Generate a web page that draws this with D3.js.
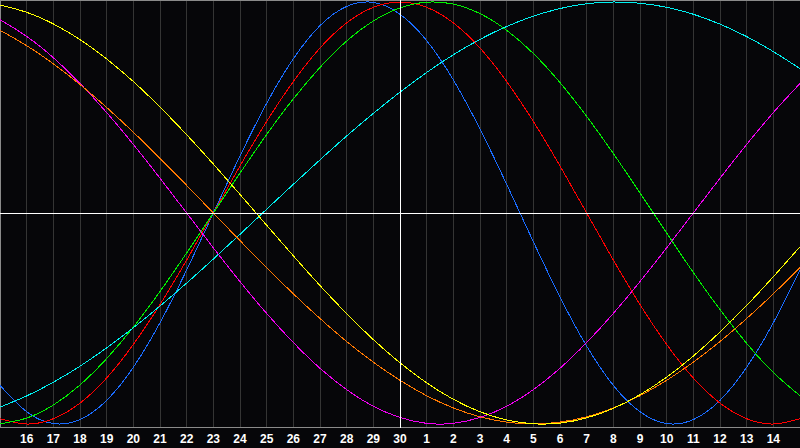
<!DOCTYPE html>
<html>
<head>
<meta charset="utf-8">
<script src="https://cdn.jsdelivr.net/npm/d3@7"></script>
<style>
html,body{margin:0;padding:0;background:#060609;overflow:hidden}
svg{display:block}
</style>
</head>
<body>
<svg id="chart" width="800" height="448"></svg>
<script>
// day labels, index 0 = 15th of previous month ... index 30 = 15th of next month
const dayLabels = ["15","16","17","18","19","20","21","22","23","24","25","26","27","28","29","30",
  "1","2","3","4","5","6","7","8","9","10","11","12","13","14","15"];

// daily values (-1 .. 1)
const physical = [-0.817,-0.942,-0.998,-0.979,-0.888,-0.731,-0.520,-0.270,0,0.270,0.520,0.731,0.888,0.979,0.998,0.942,0.817,0.631,0.398,0.136,-0.136,-0.398,-0.631,-0.817,-0.942,-0.998,-0.979,-0.888,-0.731,-0.520,-0.270];
const emotional = [-0.975,-1,-0.975,-0.901,-0.782,-0.623,-0.434,-0.223,0,0.223,0.434,0.623,0.782,0.901,0.975,1,0.975,0.901,0.782,0.623,0.434,0.223,0,-0.223,-0.434,-0.623,-0.782,-0.901,-0.975,-1,-0.975];
const intellectual = [-0.999,-0.972,-0.910,-0.815,-0.690,-0.541,-0.372,-0.189,0,0.189,0.372,0.541,0.690,0.815,0.910,0.972,0.999,0.990,0.945,0.866,0.756,0.618,0.458,0.282,0.095,-0.095,-0.282,-0.458,-0.618,-0.756,-0.866];
const spiritual = [-0.920,-0.867,-0.802,-0.726,-0.639,-0.544,-0.441,-0.332,-0.218,-0.101,0.018,0.136,0.252,0.365,0.472,0.573,0.666,0.750,0.823,0.884,0.933,0.969,0.992,1.000,0.994,0.975,0.942,0.895,0.836,0.765,0.684];
const aesthetic = [0.986,0.951,0.896,0.822,0.730,0.623,0.502,0.371,0.232,0.088,-0.058,-0.203,-0.344,-0.477,-0.600,-0.710,-0.805,-0.883,-0.942,-0.981,-0.999,-0.996,-0.971,-0.926,-0.861,-0.778,-0.678,-0.564,-0.438,-0.302,-0.160];
const awareness = [0.866,0.793,0.707,0.609,0.500,0.383,0.259,0.131,0,-0.131,-0.259,-0.383,-0.500,-0.609,-0.707,-0.793,-0.866,-0.924,-0.966,-0.991,-1,-0.991,-0.966,-0.924,-0.866,-0.793,-0.707,-0.609,-0.500,-0.383,-0.259];
const intuitive = [0.916,0.837,0.736,0.614,0.476,0.325,0.165,0,-0.165,-0.325,-0.476,-0.614,-0.736,-0.837,-0.916,-0.969,-0.997,-0.997,-0.969,-0.916,-0.837,-0.736,-0.614,-0.476,-0.325,-0.165,0,0.165,0.325,0.476,0.614];

const series = [
  {name:"physical", values: physical, color:"#1a6cff"},
  {name:"emotional", values: emotional, color:"#ff0000"},
  {name:"intellectual", values: intellectual, color:"#00f000"},
  {name:"spiritual", values: spiritual, color:"#00f0f0"},
  {name:"intuitive", values: intuitive, color:"#f000f0"},
  {name:"awareness", values: awareness, color:"#ff7800"},
  {name:"aesthetic", values: aesthetic, color:"#ffff00"}
];

const W = 800, H = 448;
const svg = d3.select("#chart");
svg.append("rect").attr("width", W).attr("height", H).attr("fill", "#060609");

const x = d3.scaleLinear().domain([0, dayLabels.length - 1]).range([0, 800]);
const y = d3.scaleLinear().domain([-1, 1]).range([424, 2]);
const axisY = 427.5;
const snap = v => Math.floor(v + 0.01) + 0.5;

// vertical day grid
svg.append("g").selectAll("line")
  .data(d3.range(1, dayLabels.length - 1))
  .join("line")
  .attr("x1", d => snap(x(d))).attr("x2", d => snap(x(d)))
  .attr("y1", 0).attr("y2", axisY)
  .attr("stroke", "#343434").attr("stroke-width", 1)
  .attr("shape-rendering", "crispEdges");

// frame
svg.append("line").attr("x1", 0).attr("x2", W).attr("y1", 0.5).attr("y2", 0.5)
  .attr("stroke", "#8a8a8a").attr("shape-rendering", "crispEdges");
svg.append("line").attr("x1", 0.5).attr("x2", 0.5).attr("y1", 0).attr("y2", axisY)
  .attr("stroke", "#8a8a8a").attr("shape-rendering", "crispEdges");
svg.append("line").attr("x1", 0).attr("x2", W).attr("y1", axisY).attr("y2", axisY)
  .attr("stroke", "#8a8a8a").attr("shape-rendering", "crispEdges");

// curves
const line = d3.line()
  .x((d, i) => x(i))
  .y(d => y(d))
  .curve(d3.curveNatural);

svg.append("g").selectAll("path")
  .data(series)
  .join("path")
  .attr("d", d => line(d.values))
  .attr("fill", "none")
  .attr("stroke", d => d.color)
  .attr("stroke-width", 1)
  .attr("shape-rendering", "crispEdges");

// today marker and zero line
const todayIndex = dayLabels.indexOf("30");
svg.append("line")
  .attr("x1", snap(x(todayIndex))).attr("x2", snap(x(todayIndex)))
  .attr("y1", 0).attr("y2", axisY)
  .attr("stroke", "#ffffff").attr("shape-rendering", "crispEdges");
svg.append("line")
  .attr("x1", 0).attr("x2", W)
  .attr("y1", Math.round(y(0)) + 0.5).attr("y2", Math.round(y(0)) + 0.5)
  .attr("stroke", "#ffffff").attr("shape-rendering", "crispEdges");

// day labels
svg.append("g").selectAll("text")
  .data(dayLabels.map((t, i) => ({t, i})).filter(d => d.i > 0 && d.i < dayLabels.length - 1))
  .join("text")
  .attr("x", d => x(d.i))
  .attr("y", 443)
  .attr("text-anchor", "middle")
  .attr("fill", "#ffffff")
  .attr("font-family", "Liberation Sans, Arial, sans-serif")
  .attr("font-weight", "bold")
  .attr("font-size", "12px")
  .text(d => d.t);
</script>
</body>
</html>
